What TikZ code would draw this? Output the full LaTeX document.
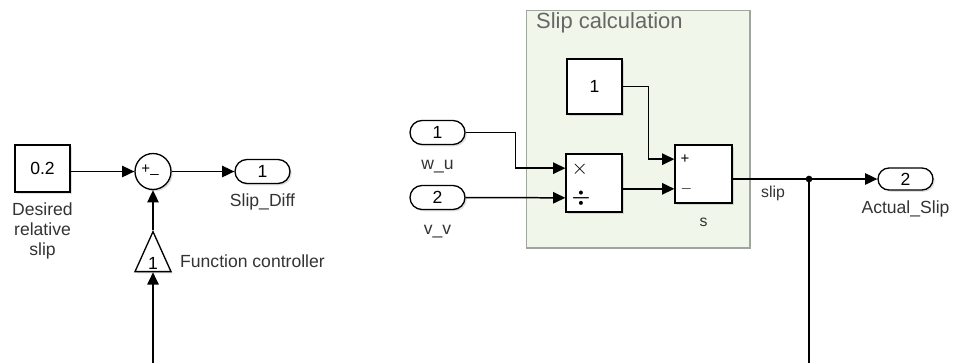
\documentclass[tikz,border=0pt]{standalone}
\usepackage{fontspec}
\setmainfont{Liberation Sans}
\usetikzlibrary{arrows.meta,positioning,calc,shapes.geometric,shapes.misc,shadows}
\definecolor{areafill}{HTML}{F0F6E9}
\definecolor{areaedge}{HTML}{9EA89A}
\definecolor{labtext}{HTML}{333333}

\begin{document}
\begin{tikzpicture}[x=0.02cm,y=-0.02cm,>={Triangle[length=7pt,width=6.5pt]},
  font=\fontsize{10}{11.3}\selectfont,
  sig/.style={->,line width=0.85pt},
  wire/.style={line width=0.85pt},
  blk/.style={draw,fill=white,line width=0.75pt,inner sep=0pt,
    drop shadow={shadow xshift=1pt,shadow yshift=-1pt,opacity=0.25}},
  port/.style={blk,rounded rectangle,minimum width=1.1cm,minimum height=0.48cm},
  lab/.style={text=labtext,align=center},
  tag/.style={text=labtext,text height=1.6ex,text depth=0.5ex},
  sign/.style={anchor=west,inner sep=0pt,font=\fontsize{8.5}{9}\selectfont}]
\useasboundingbox (0,0) rectangle (953,363);

\node[draw=areaedge,fill=areafill,line width=0.6pt,minimum width=4.48cm,minimum height=4.76cm] (slipcalc) at (638,129) {};
\node[anchor=base west,text=black!60,font=\fontsize{12.5}{14}\selectfont] (title) at (530,28) {Slip calculation};

\node[blk,minimum width=1.1cm,minimum height=0.94cm] (c02) at (42.5,168.5) {0.2};
\node[lab,anchor=north] (c02lab) at (42.5,197) {Desired\\relative\\slip};
\node[blk,circle,minimum size=0.72cm] (sum) at (153,171.5) {};
\node[sign] (sumplus) at (141,169) {+};
\node[sign] (summinus) at (150,174) {\_};
\node[port] (out1) at (262.5,171.5) {1};
\node[tag,below=1pt of out1] (out1lab) {Slip\_Diff};
\node[blk,isosceles triangle,isosceles triangle stretches,shape border rotate=90,
  minimum width=0.72cm,minimum height=0.8cm] (gain) at (153,260) {};
\node[inner sep=0pt] (gainval) at (153,263) {1};
\node[tag,anchor=west] (gainlab) at (174,262) {Function controller};
\coordinate (fcin) at (153,363);

\node[port] (in1) at (437.5,132.5) {1};
\node[tag,below=2pt of in1] (in1lab) {w\_u};
\node[port] (in2) at (437.5,197.5) {2};
\node[tag,below=2pt of in2] (in2lab) {v\_v};
\node[blk,minimum width=1.1cm,minimum height=1.1cm] (one) at (594.5,86.5) {1};
\node[blk,minimum width=1.12cm,minimum height=1.16cm] (prod) at (594,183) {};
\node[blk,minimum width=1.14cm,minimum height=1.16cm] (subs) at (703.5,174) {};
\coordinate (prodin1) at ($(prod.north west)!0.25!(prod.south west)$);
\coordinate (prodin2) at ($(prod.north west)!0.75!(prod.south west)$);
\coordinate (subsin1) at ($(subs.north west)!0.25!(subs.south west)$);
\coordinate (subsin2) at ($(subs.north west)!0.75!(subs.south west)$);
\node[sign,font=\fontsize{13}{14}\selectfont] (prodmul) at ($(prodin1)+(6,1)$) {$\times$};
\node[sign,font=\fontsize{12}{13}\selectfont\boldmath] (proddiv) at ($(prodin2)+(6,0)$) {$\div$};
\node[sign] (subsplus) at ($(subsin1)+(6,0)$) {+};
\node[sign] (subsminus) at ($(subsin2)+(6,0)$) {$-$};
\node[tag,below=1pt of subs,font=\fontsize{9}{10}\selectfont] (subslab) {s};
\node[port,minimum height=0.44cm] (out2) at (905.5,179) {2};
\node[tag,below=1pt of out2] (out2lab) {Actual\_Slip};
\coordinate (br) at (809,179);
\coordinate (slipend) at (809,363);
\node[tag,font=\fontsize{9}{10}\selectfont] (sliplab) at (773,192) {slip};

\draw[sig] (c02.east |- sum.west) -- (sum.west);
\draw[sig] (sum.east) -- (out1.west);
\draw[sig] (gain.north) -- (sum.south);
\draw[sig] (fcin) -- (gain.south);
\draw[sig] (in1.east) -- ++(50,0) |- (prodin1);
\draw[sig] (in2.east) -- (prodin2);
\draw[sig] (one.east) -- ++(26,0) |- (subsin1);
\draw[sig] (prod.east |- subsin2) -- (subsin2);
\draw[wire] (subs.east |- br) -- (br);
\draw[sig] (br) -- (out2.west);
\draw[wire] (br) -- (slipend);
\fill (br) circle (1.9pt);
\end{tikzpicture}
\end{document}
